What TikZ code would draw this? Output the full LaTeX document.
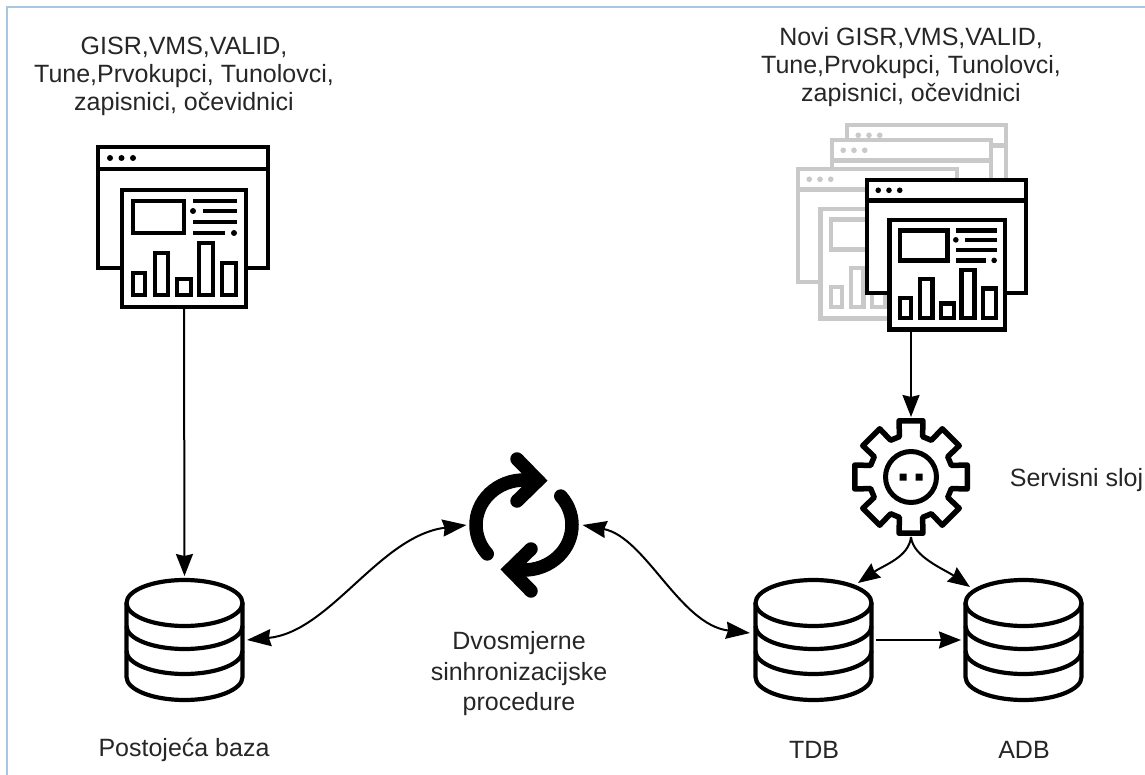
\documentclass[tikz,border=0pt]{standalone}
\usepackage{fontspec}
\setmainfont{Liberation Sans}
\usetikzlibrary{arrows.meta}
\definecolor{frameblue}{HTML}{A9C6E0}
\definecolor{ghost}{HTML}{C9C9C9}
\newcommand{\webwin}[4]{%
  \begin{scope}[shift={(#1,#2)},scale=#3,line width=4.2pt,draw=#4,fill=white,miter limit=4]
    \filldraw (0,0) rectangle (170,121);
    \draw (0,22) -- (170,22);
    \fill[#4] (12,11) circle (3) (23.5,11) circle (3) (35,11) circle (3);
    \filldraw (24,43) rectangle (148,160);
    \draw (35,54) rectangle (86,86);
    \draw (95,54) -- (139,54) (105,64) -- (139,64) (95,75) -- (139,75) (95,86) -- (127,86);
    \fill[#4] (95,64) circle (3) (136,86) circle (3);
    \draw (35,126) rectangle (47,148);
    \draw (57,106) rectangle (70,148);
    \draw (79,132) rectangle (93,148);
    \draw (101,96) rectangle (115,148);
    \draw (124,116) rectangle (138,148);
  \end{scope}}
\newcommand{\dbase}[1]{%
  \begin{scope}[shift={(#1,640)},line width=4.2pt,line join=round]
    \draw (0,-37) ellipse[x radius=58,y radius=23];
    \draw (-58,-37) -- (-58,37) arc[start angle=180,end angle=0,x radius=58,y radius=23] -- (58,-37);
    \draw (-58,-14) arc[start angle=180,end angle=0,x radius=58,y radius=23];
    \draw (-58,11) arc[start angle=180,end angle=0,x radius=58,y radius=23];
  \end{scope}}
\tikzset{
  lbl/.style={align=center,font=\fontsize{25}{28}\selectfont,text=black!85,inner sep=0pt},
  lblwide/.style={lbl,font=\fontsize{25}{30.5}\selectfont},
  anchorbox/.style={inner sep=0pt,outer sep=4pt,draw=none},
  link/.style={line width=2pt,-{Stealth[length=22pt,width=17pt,inset=2pt]}},
  duplex/.style={line width=2pt,{Stealth[length=24pt,width=17pt,inset=2pt]}-{Stealth[length=24pt,width=17pt,inset=2pt]}},
}
\begin{document}
\begin{tikzpicture}[x=1pt,y=1pt,yscale=-1]
\useasboundingbox (0,0) rectangle (1145,775);
\fill[white] (0,0) rectangle (1145,775);
\draw[frameblue,line width=1.6pt] (7,775) -- (7,7) -- (1145,7);

% texts
\node[lbl] (txtL) at (184,76) {GISR,VMS,VALID,\\Tune,Prvokupci, Tunolovci,\\zapisnici, očevidnici};
\node[lbl] (txtR) at (911,67) {Novi GISR,VMS,VALID,\\Tune,Prvokupci, Tunolovci,\\zapisnici, očevidnici};
\node[lbl] (txtS) at (1076.5,480) {Servisni sloj};
\node[lblwide] (txtC) at (519,674) {Dvosmjerne\\sinhronizacijske\\procedure};
\node[lbl] (txtP) at (184,750) {Postojeća baza};
\node[lbl] (txtT) at (814,750) {TDB};
\node[lbl] (txtA) at (1024,750) {ADB};

% window icons
\webwin{98}{147}{1}{black}
\webwin{847}{125}{.935}{ghost}
\webwin{832}{140}{.935}{ghost}
\webwin{798}{169}{.935}{ghost}
\webwin{867}{180}{.935}{black}
\node[anchorbox,outer sep=0pt,minimum width=124pt,minimum height=117pt] (winL) at (184,248.5) {};
\node[anchorbox,outer sep=0pt,minimum width=117pt,minimum height=109pt] (winR) at (911,274.5) {};

% databases
\dbase{184.5}
\dbase{813.5}
\dbase{1023.5}
\node[anchorbox,minimum width=117pt,minimum height=120pt] (dbL) at (184.5,640) {};
\node[anchorbox,minimum width=117pt,minimum height=120pt] (dbT) at (813.5,640) {};
\node[anchorbox,minimum width=117pt,minimum height=120pt] (dbA) at (1023.5,640) {};

% gear
\begin{scope}[shift={(911,477)}]
  \draw[line width=5.5pt,line join=round,fill=white]
    (-16:42) \foreach \a in {0,45,...,315}{
      -- (\a-16:42) -- (\a-12:57.5) -- (\a+12:57.5) -- (\a+16:42)
    } -- cycle;
  \draw[line width=5pt] (0,0) circle (25.5);
  \fill (-11.5,-3.5) rectangle +(7,7) (4.5,-3.5) rectangle +(7,7);
\end{scope}
\node[anchorbox,outer sep=0pt,circle,minimum size=120pt] (gear) at (911,477) {};

% sync icon
\foreach \r in {0,180}{
  \begin{scope}[rotate around={\r:(524,525)},line width=13.5pt,line cap=round]
    \draw (524,525) ++(140:48 and 45) arc[start angle=140,end angle=278,x radius=48,y radius=45];
    \draw[miter limit=10] (517,459) -- (538,480.5) -- (517,501);
  \end{scope}
}
\node[anchorbox,outer sep=0pt,circle,minimum size=116pt] (sync) at (524.5,525) {};

% free ends of connectors
\coordinate (tipT) at (858,583);
\coordinate (tipA) at (970,587);
\coordinate (inT) at (750,633);

% connectors
\draw[link] (winL.south) -- (dbL.north);
\draw[link] (winR.south) -- (gear.north);
\draw[link] (gear.south) .. controls +(-2,20) and +(26,-18) .. (tipT);
\draw[link] (gear.south) .. controls +(2,20) and +(-26,-18) .. (tipA);
\draw[link] (dbT.east) -- (dbA.west);
\draw[duplex] (dbL.east) .. controls +(83,-8) and +(-87,11) .. (sync.west);
\draw[duplex] (sync.east) .. controls +(63,12) and +(-70,-8) .. (inT);
\end{tikzpicture}
\end{document}
